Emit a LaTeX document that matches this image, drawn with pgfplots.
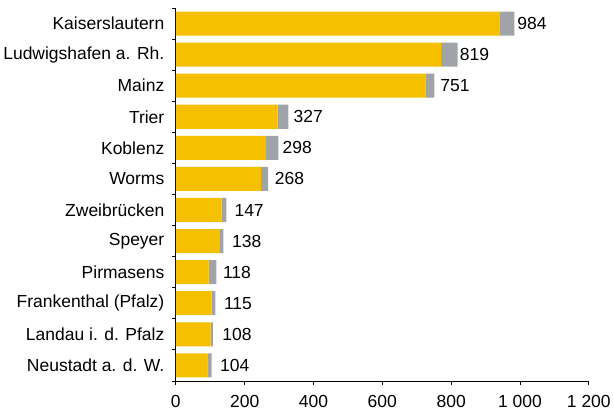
\documentclass[border=0pt]{standalone}
\usepackage{pgfplots}
\pgfplotsset{compat=1.18}
\usepackage{fontspec}
\setmainfont{Liberation Sans}
\definecolor{barY}{RGB}{245,192,0}
\definecolor{barG}{RGB}{160,164,168}
\begin{document}
\begin{tikzpicture}
\begin{axis}[
  scale only axis, width=412bp, height=372bp,
  xbar stacked, bar width=24bp,
  xmin=0, xmax=1200, ymin=-0.5, ymax=11.5, y dir=reverse,
  axis x line*=bottom, axis y line*=left,
  axis line style={black, line width=0.8pt},
  ytick={0,...,11},
  yticklabels={Kaiserslautern, Ludwigshafen a. Rh., Mainz, Trier, Koblenz, Worms,
    Zweibrücken, Speyer, Pirmasens, Frankenthal (Pfalz), Landau i. d. Pfalz, Neustadt a. d. W.},
  major y tick style={draw=none},
  minor ytick={-0.5,0.5,...,11.5},
  xtick={0,200,...,1200},
  tick align=outside, tick style={black, line width=0.8pt},
  major tick length=4bp, minor tick length=4bp,
  font=\fontsize{17.5}{20}\selectfont,
  yticklabel style={xshift=-4bp},
  xticklabel style={yshift=-7bp},
  /pgf/number format/assume math mode=true,
  /pgf/number format/1000 sep={\ },
  clip=false,
]
\addplot[fill=barY, draw=none] coordinates {
  (940,0) (771,1) (725,2) (296,3) (262,4) (247,5)
  (133,6) (128,7) (95,8) (104,9) (101,10) (92,11)
};
\addplot[fill=barG, draw=none, point meta=explicit, nodes near coords,
  nodes near coords align={horizontal},
  every node near coord/.append style={anchor=west, xshift=7bp, black}] coordinates {
  (44,0) [984] (48,1) [819] (26,2) [751] (31,3) [327] (36,4) [298] (21,5) [268]
  (14,6) [147] (10,7) [138] (23,8) [118] (11,9) [115] (7,10) [108] (12,11) [104]
};
\end{axis}
% white margin above the axis, as in the reference
\path ([yshift=8bp]current axis.north);
\end{tikzpicture}
\end{document}
